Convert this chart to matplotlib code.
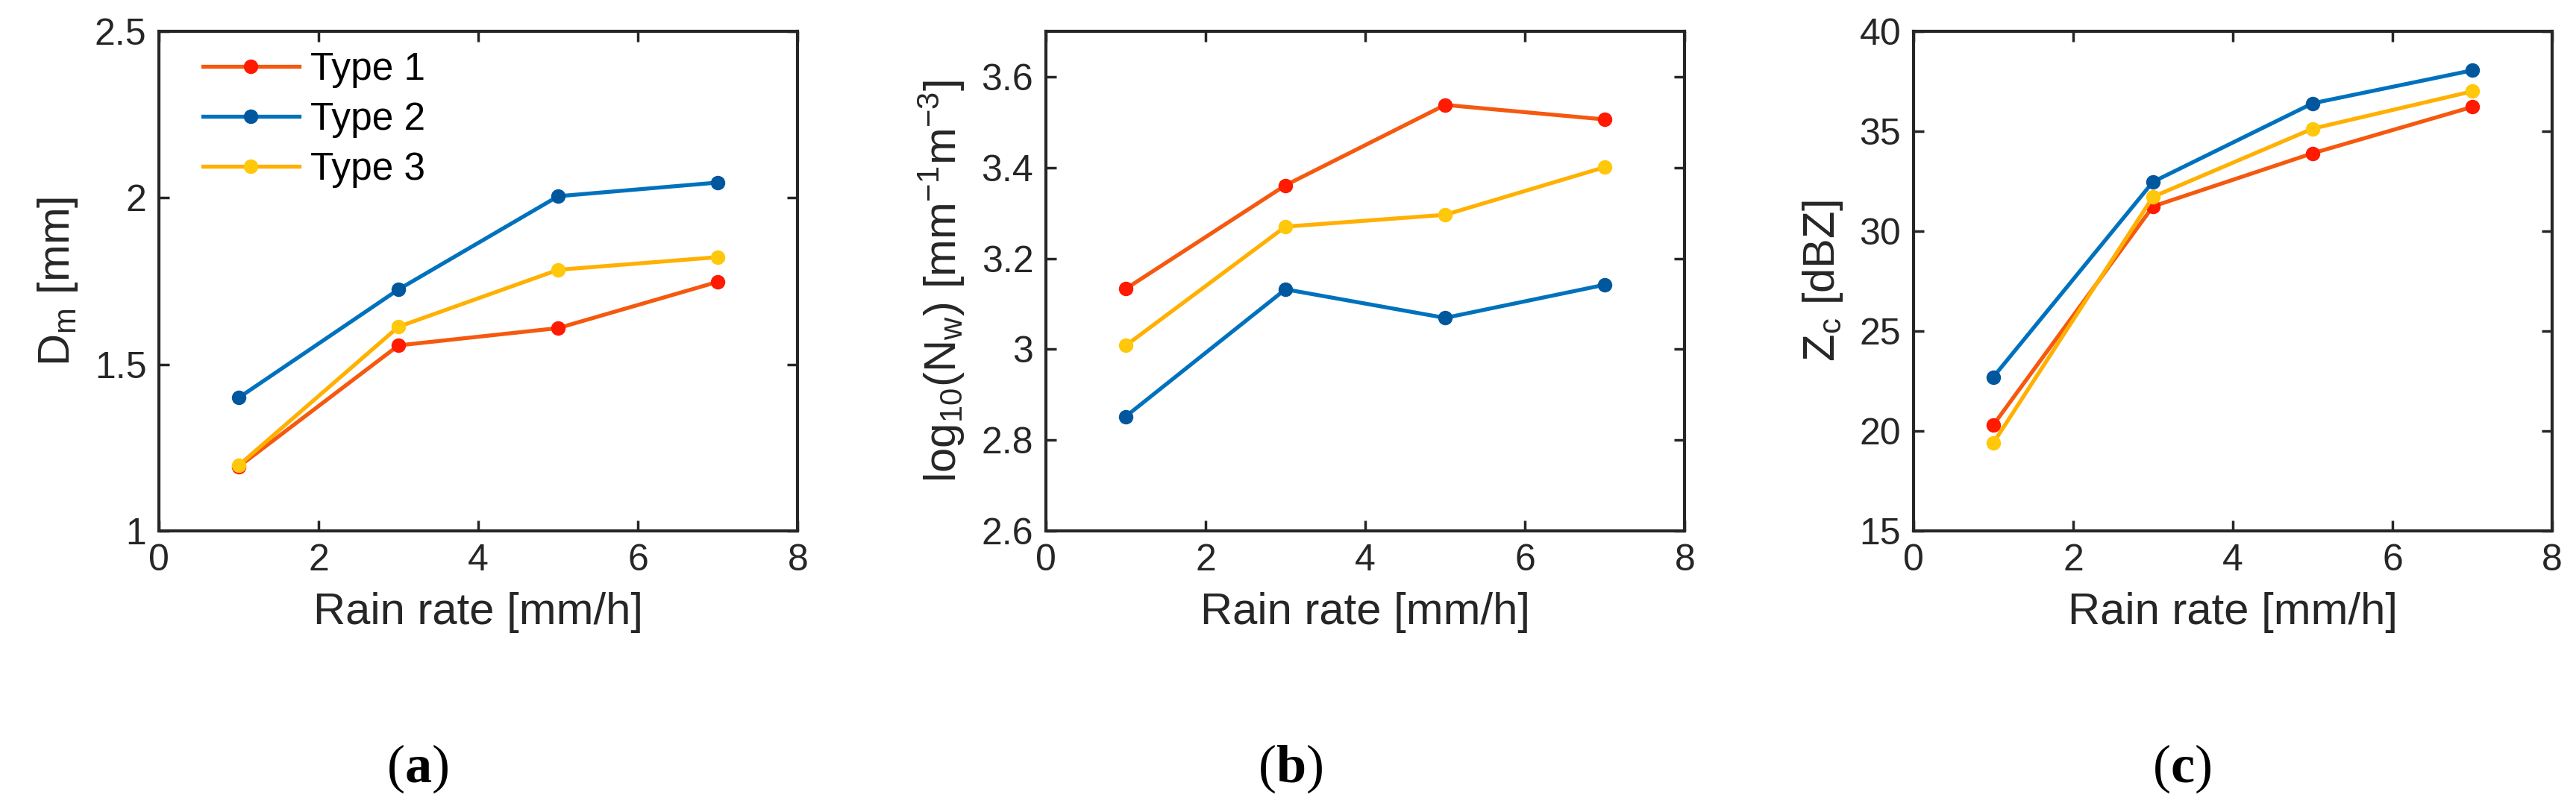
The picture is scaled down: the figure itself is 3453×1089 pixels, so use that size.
import numpy as np
import matplotlib
matplotlib.use("Agg")
import matplotlib.pyplot as plt
from matplotlib.ticker import FuncFormatter

plt.rcParams['font.family'] = ['Liberation Sans', 'DejaVu Sans']
plt.rcParams['mathtext.fontset'] = 'custom'
plt.rcParams['mathtext.rm'] = 'Liberation Sans'
plt.rcParams['mathtext.it'] = 'Liberation Sans'
plt.rcParams['mathtext.bf'] = 'Liberation Serif:bold'

# dati
rain_rate = [1, 3, 5, 7]
type_names = ['Type 1', 'Type 2', 'Type 3']

dm_type1 = [1.193, 1.557, 1.609, 1.748]
dm_type2 = [1.400, 1.725, 2.005, 2.046]
dm_type3 = [1.197, 1.613, 1.784, 1.822]

nw_type1 = [3.133, 3.361, 3.538, 3.506]
nw_type2 = [2.852, 3.132, 3.069, 3.142]
nw_type3 = [3.008, 3.270, 3.296, 3.401]

zc_type1 = [20.3, 31.24, 33.9, 36.22]
zc_type2 = [22.7, 32.47, 36.4, 38.05]
zc_type3 = [19.4, 31.72, 35.13, 37.0]

line_colors = ['#F5590F', '#0072BD', '#FFB000']
marker_colors = ['#FF1A00', '#00579E', '#FFC80A']
text_col = '#262626'

fig = plt.figure(figsize=(34.53, 10.89), dpi=100)

lefts = [0.0617, 0.406, 0.7428]
w, b, h = 0.248, 0.3462, 0.6152

panels = [
    ([dm_type1, dm_type2, dm_type3], (1, 2.5), [1, 1.5, 2, 2.5],
     r'$\mathregular{D_m}$ [mm]'),
    ([nw_type1, nw_type2, nw_type3], (2.6, 3.7), [2.6, 2.8, 3, 3.2, 3.4, 3.6],
     r'$\mathregular{log_{10}(N_w)}$ [$\mathregular{mm^{-1}m^{-3}}$]'),
    ([zc_type1, zc_type2, zc_type3], (15, 40), [15, 20, 25, 30, 35, 40],
     r'$\mathregular{Z_c}$ [dBZ]'),
]
letters = ['a', 'b', 'c']
label_x = [0.162, 0.501, 0.847]

for i, (series, ylim, yticks, ylabel) in enumerate(panels):
    ax = fig.add_axes([lefts[i], b, w, h])
    for k, vals in enumerate(series):
        ax.plot(rain_rate, vals, '-o', color=line_colors[k], lw=3.8,
                marker='o', ms=13, mfc=marker_colors[k], mec=marker_colors[k],
                label=type_names[k])
    ax.set_xlim(0, 8)
    ax.set_ylim(*ylim)
    ax.set_xticks([0, 2, 4, 6, 8])
    ax.set_yticks(yticks)
    ax.yaxis.set_major_formatter(FuncFormatter(lambda v, p: '%g' % round(v, 3)))
    ax.tick_params(direction='in', length=10, width=2.5, top=True, right=True,
                   labelsize=36, colors=text_col, pad=12)
    for s in ax.spines.values():
        s.set_linewidth(3)
        s.set_color(text_col)
    ax.set_xlabel('Rain rate [mm/h]', fontsize=43, color=text_col, labelpad=14)
    ax.set_ylabel(ylabel, fontsize=43, color=text_col, labelpad=14)
    if i == 0:
        ax.legend(loc='upper left', frameon=False, fontsize=37,
                  handlelength=2.5, handletextpad=0.3, labelspacing=0.35,
                  bbox_to_anchor=(0.045, 0.99), borderaxespad=0.0)
    fig.text(label_x[i], 0.053, r'($\mathbf{%s}$)' % letters[i],
             fontsize=52, family='Liberation Serif', ha='center', va='center')

fig.savefig('out.png', dpi=100)
